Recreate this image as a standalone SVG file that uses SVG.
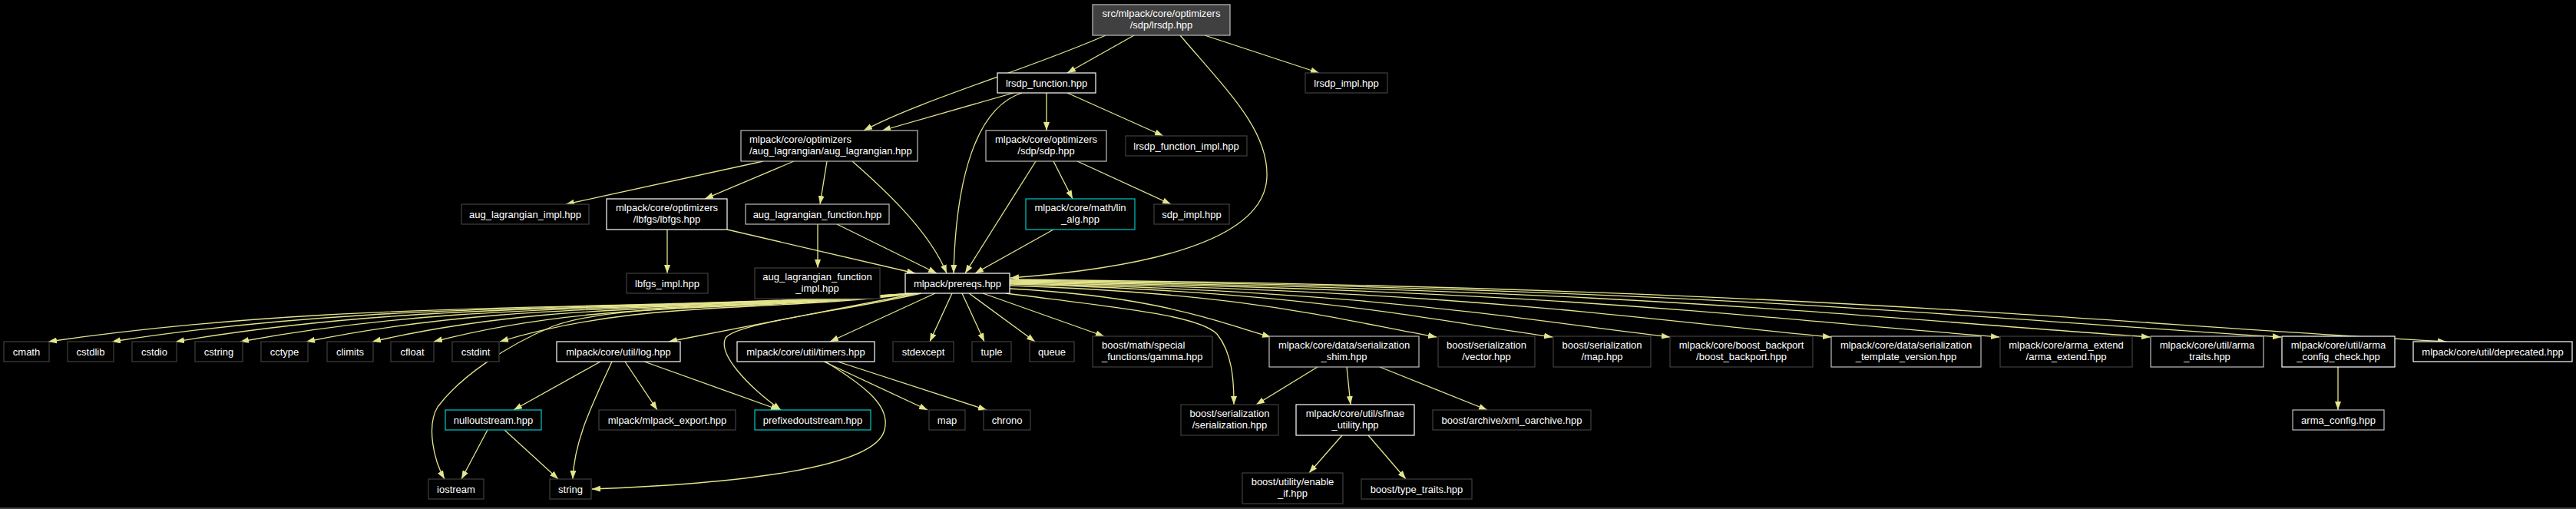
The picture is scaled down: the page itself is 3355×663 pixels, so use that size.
<svg xmlns="http://www.w3.org/2000/svg" width="3355" height="663" viewBox="0 0 3355 663">
<style>
.n rect{fill:#000;stroke-width:1.2}
.w rect{stroke:#ffffff}
.g rect{stroke:#bfbfbf}
.d rect{stroke:#404040}
.c rect{stroke:#00c8c8}
.r rect{fill:#404040;stroke:#bfbfbf}
.n text{font-family:"Liberation Sans",Arial,sans-serif;font-size:13px;fill:#ffffff;text-anchor:middle}
.n text.l{text-anchor:start}
#edges path{fill:none;stroke:#e4e48c;stroke-width:1.3;marker-end:url(#ah)}
</style>
<defs>
<marker id="ah" viewBox="0 0 11 8" refX="11" refY="4" markerWidth="11" markerHeight="8" markerUnits="userSpaceOnUse" orient="auto">
<path d="M0,0 L11,4 L0,8 z" fill="#e4e48c" stroke="none"/>
</marker>
</defs>
<rect x="0" y="0" width="3355" height="663" fill="#000"/>
<rect x="0" y="661" width="3355" height="2" fill="#404040"/>
<g id="edges">
<path d="M1440,46 C1340,90 1200,130 1125,170"/>
<path d="M1477,46 L1390,95"/>
<path d="M1537,46 C1600,120 1652,170 1650,230 C1648,300 1540,345 1316,362"/>
<path d="M1569,46 L1718,95"/>
<path d="M1320,121 L1149,170"/>
<path d="M1331,121 C1272,140 1245,230 1242,356"/>
<path d="M1363,121 L1363,170"/>
<path d="M1390,121 L1515,177"/>
<path d="M994,210 L737,266"/>
<path d="M1034,210 L918,259"/>
<path d="M1077,210 L1068,266"/>
<path d="M1110,210 C1150,245 1210,300 1233,356"/>
<path d="M1349,210 L1257,356"/>
<path d="M1372,210 L1397,259"/>
<path d="M1403,210 L1525,266"/>
<path d="M869,299 L869,356"/>
<path d="M947,299 L1192,356"/>
<path d="M1065,292 L1065,349"/>
<path d="M1090,292 L1220,356"/>
<path d="M1372,299 L1270,356"/>
<path d="M1192,382 C797,408 458,388 63,445"/>
<path d="M1192,382 C826,408 512,388 146,445"/>
<path d="M1192,382 C855,408 566,388 229,445"/>
<path d="M1192,382 C884,408 621,388 313,445"/>
<path d="M1192,382 C914,408 677,388 399,445"/>
<path d="M1192,382 C945,408 732,388 485,445"/>
<path d="M1192,382 C973,408 784,388 565,445"/>
<path d="M1192,382 C1003,408 840,388 651,445"/>
<path d="M1192,382 C1000,400 800,395 720,425 C660,450 600,490 570,530 C555,555 565,600 579,624"/>
<path d="M1195,382 L871,445"/>
<path d="M1200,382 C1100,405 960,420 945,440 C935,460 970,500 1017,534"/>
<path d="M1218,382 L1081,445"/>
<path d="M1240,382 L1211,445"/>
<path d="M1253,382 L1282,445"/>
<path d="M1262,382 L1348,445"/>
<path d="M1280,382 L1438,438"/>
<path d="M1310,382 C1450,400 1560,410 1585,435 C1605,460 1607,495 1607,527"/>
<path d="M1315,376 C1502,386 1570,414 1655,439"/>
<path d="M1315,372 C1621,382 1732,414 1871,439"/>
<path d="M1315,370 C1704,380 1845,414 2022,439"/>
<path d="M1315,369 C1788,379 1960,414 2175,439"/>
<path d="M1315,368 C1904,378 2117,414 2385,439"/>
<path d="M1315,367 C2024,377 2282,414 2604,439"/>
<path d="M1315,366 C2132,376 2429,414 2800,439"/>
<path d="M1315,365 C2226,375 2557,414 2971,439"/>
<path d="M1315,364 C2344,374 2718,420 3186,445"/>
<path d="M782,471 L669,534"/>
<path d="M797,471 C775,520 748,570 746,624"/>
<path d="M814,471 L856,534"/>
<path d="M839,471 L1015,534"/>
<path d="M635,560 L601,624"/>
<path d="M657,560 L727,624"/>
<path d="M1075,471 C1130,505 1160,530 1152,560 C1140,610 960,630 771,637"/>
<path d="M1073,471 L1208,534"/>
<path d="M1091,471 L1285,534"/>
<path d="M1716,478 L1636,527"/>
<path d="M1754,478 L1759,527"/>
<path d="M1797,478 L1937,534"/>
<path d="M1748,567 L1705,616"/>
<path d="M1782,567 L1831,624"/>
<path d="M3045,478 L3045,534"/>
</g>
<g id="n_root" class="n r"><rect x="1423" y="6" width="179" height="40"/><text x="1512.5" y="22">src/mlpack/core/optimizers</text><text x="1512.5" y="37">/sdp/lrsdp.hpp</text></g>
<g id="n_lrsdp_function" class="n w"><rect x="1299" y="95" width="128" height="26"/><text x="1363" y="112.5">lrsdp_function.hpp</text></g>
<g id="n_lrsdp_impl" class="n d"><rect x="1700" y="95" width="107" height="26"/><text x="1753.5" y="112.5">lrsdp_impl.hpp</text></g>
<g id="n_aug_lagrangian" class="n g"><rect x="965" y="170" width="230" height="40"/><text class="l" x="976" y="186">mlpack/core/optimizers</text><text class="l" x="976" y="201">/aug_lagrangian/aug_lagrangian.hpp</text></g>
<g id="n_sdp" class="n g"><rect x="1284" y="170" width="157" height="40"/><text x="1362.5" y="186">mlpack/core/optimizers</text><text x="1362.5" y="201">/sdp/sdp.hpp</text></g>
<g id="n_lrsdp_function_impl" class="n d"><rect x="1466" y="177" width="158" height="26"/><text x="1545" y="194.5">lrsdp_function_impl.hpp</text></g>
<g id="n_aug_lagrangian_impl" class="n d"><rect x="601" y="266" width="166" height="26"/><text x="684" y="283.5">aug_lagrangian_impl.hpp</text></g>
<g id="n_lbfgs" class="n w"><rect x="790" y="259" width="157" height="40"/><text x="868.5" y="275">mlpack/core/optimizers</text><text x="868.5" y="290">/lbfgs/lbfgs.hpp</text></g>
<g id="n_aug_lagrangian_function" class="n g"><rect x="971" y="266" width="187" height="26"/><text x="1064.5" y="283.5">aug_lagrangian_function.hpp</text></g>
<g id="n_lin_alg" class="n c"><rect x="1336" y="259" width="142" height="40"/><text x="1407" y="275">mlpack/core/math/lin</text><text x="1407" y="290">_alg.hpp</text></g>
<g id="n_sdp_impl" class="n d"><rect x="1503" y="266" width="98" height="26"/><text x="1552" y="283.5">sdp_impl.hpp</text></g>
<g id="n_lbfgs_impl" class="n d"><rect x="816" y="356" width="106" height="26"/><text x="869" y="373.5">lbfgs_impl.hpp</text></g>
<g id="n_aug_lagrangian_function_impl" class="n d"><rect x="983" y="349" width="163" height="40"/><text x="1064.5" y="365">aug_lagrangian_function</text><text x="1064.5" y="380">_impl.hpp</text></g>
<g id="n_prereqs" class="n w"><rect x="1179" y="356" width="136" height="26"/><text x="1247" y="373.5">mlpack/prereqs.hpp</text></g>
<g id="n_cmath" class="n d"><rect x="5" y="445" width="59" height="26"/><text x="34.5" y="462.5">cmath</text></g>
<g id="n_cstdlib" class="n d"><rect x="88" y="445" width="60" height="26"/><text x="118" y="462.5">cstdlib</text></g>
<g id="n_cstdio" class="n d"><rect x="172" y="445" width="58" height="26"/><text x="201" y="462.5">cstdio</text></g>
<g id="n_cstring" class="n d"><rect x="254" y="445" width="62" height="26"/><text x="285" y="462.5">cstring</text></g>
<g id="n_cctype" class="n d"><rect x="340" y="445" width="61" height="26"/><text x="370.5" y="462.5">cctype</text></g>
<g id="n_climits" class="n d"><rect x="426" y="445" width="60" height="26"/><text x="456" y="462.5">climits</text></g>
<g id="n_cfloat" class="n d"><rect x="509" y="445" width="56" height="26"/><text x="537" y="462.5">cfloat</text></g>
<g id="n_cstdint" class="n d"><rect x="589" y="445" width="61" height="26"/><text x="619.5" y="462.5">cstdint</text></g>
<g id="n_log" class="n w"><rect x="725" y="445" width="161" height="26"/><text x="805.5" y="462.5">mlpack/core/util/log.hpp</text></g>
<g id="n_timers" class="n w"><rect x="960" y="445" width="179" height="26"/><text x="1049.5" y="462.5">mlpack/core/util/timers.hpp</text></g>
<g id="n_stdexcept" class="n d"><rect x="1163" y="445" width="79" height="26"/><text x="1202.5" y="462.5">stdexcept</text></g>
<g id="n_tuple" class="n d"><rect x="1266" y="445" width="51" height="26"/><text x="1291.5" y="462.5">tuple</text></g>
<g id="n_queue" class="n d"><rect x="1341" y="445" width="58" height="26"/><text x="1370" y="462.5">queue</text></g>
<g id="n_gamma" class="n d"><rect x="1423" y="438" width="156" height="40"/><text class="l" x="1435" y="454">boost/math/special</text><text class="l" x="1435" y="469">_functions/gamma.hpp</text></g>
<g id="n_shim" class="n g"><rect x="1653" y="438" width="195" height="40"/><text x="1750.5" y="454">mlpack/core/data/serialization</text><text x="1750.5" y="469">_shim.hpp</text></g>
<g id="n_ser_vector" class="n d"><rect x="1873" y="438" width="126" height="40"/><text x="1936" y="454">boost/serialization</text><text x="1936" y="469">/vector.hpp</text></g>
<g id="n_ser_map" class="n d"><rect x="2023" y="438" width="127" height="40"/><text x="2086.5" y="454">boost/serialization</text><text x="2086.5" y="469">/map.hpp</text></g>
<g id="n_backport" class="n d"><rect x="2175" y="438" width="186" height="40"/><text x="2268" y="454">mlpack/core/boost_backport</text><text x="2268" y="469">/boost_backport.hpp</text></g>
<g id="n_template_version" class="n g"><rect x="2385" y="438" width="195" height="40"/><text x="2482.5" y="454">mlpack/core/data/serialization</text><text x="2482.5" y="469">_template_version.hpp</text></g>
<g id="n_arma_extend" class="n d"><rect x="2605" y="438" width="172" height="40"/><text x="2691" y="454">mlpack/core/arma_extend</text><text x="2691" y="469">/arma_extend.hpp</text></g>
<g id="n_arma_traits" class="n g"><rect x="2801" y="438" width="147" height="40"/><text x="2874.5" y="454">mlpack/core/util/arma</text><text x="2874.5" y="469">_traits.hpp</text></g>
<g id="n_arma_config_check" class="n w"><rect x="2972" y="438" width="147" height="40"/><text x="3045.5" y="454">mlpack/core/util/arma</text><text x="3045.5" y="469">_config_check.hpp</text></g>
<g id="n_deprecated" class="n w"><rect x="3143" y="445" width="207" height="26"/><text x="3246.5" y="462.5">mlpack/core/util/deprecated.hpp</text></g>
<g id="n_nulloutstream" class="n c"><rect x="580" y="534" width="125" height="26"/><text x="642.5" y="551.5">nulloutstream.hpp</text></g>
<g id="n_mlpack_export" class="n d"><rect x="780" y="534" width="178" height="26"/><text x="869" y="551.5">mlpack/mlpack_export.hpp</text></g>
<g id="n_prefixedoutstream" class="n c"><rect x="983" y="534" width="151" height="26"/><text x="1058.5" y="551.5">prefixedoutstream.hpp</text></g>
<g id="n_map" class="n d"><rect x="1210" y="534" width="47" height="26"/><text x="1233.5" y="551.5">map</text></g>
<g id="n_chrono" class="n d"><rect x="1281" y="534" width="61" height="26"/><text x="1311.5" y="551.5">chrono</text></g>
<g id="n_serialization" class="n d"><rect x="1538" y="527" width="127" height="40"/><text x="1601.5" y="543">boost/serialization</text><text x="1601.5" y="558">/serialization.hpp</text></g>
<g id="n_sfinae" class="n w"><rect x="1688" y="527" width="154" height="40"/><text x="1765" y="543">mlpack/core/util/sfinae</text><text x="1765" y="558">_utility.hpp</text></g>
<g id="n_xml_oarchive" class="n d"><rect x="1866" y="534" width="206" height="26"/><text x="1969" y="551.5">boost/archive/xml_oarchive.hpp</text></g>
<g id="n_arma_config" class="n g"><rect x="2986" y="534" width="119" height="26"/><text x="3045.5" y="551.5">arma_config.hpp</text></g>
<g id="n_iostream" class="n d"><rect x="558" y="624" width="72" height="26"/><text x="594" y="641.5">iostream</text></g>
<g id="n_string" class="n d"><rect x="716" y="624" width="54" height="26"/><text x="743" y="641.5">string</text></g>
<g id="n_enable_if" class="n d"><rect x="1618" y="616" width="131" height="40"/><text x="1683.5" y="632">boost/utility/enable</text><text x="1683.5" y="647">_if.hpp</text></g>
<g id="n_type_traits" class="n d"><rect x="1773" y="624" width="144" height="26"/><text x="1845" y="641.5">boost/type_traits.hpp</text></g>
</svg>
